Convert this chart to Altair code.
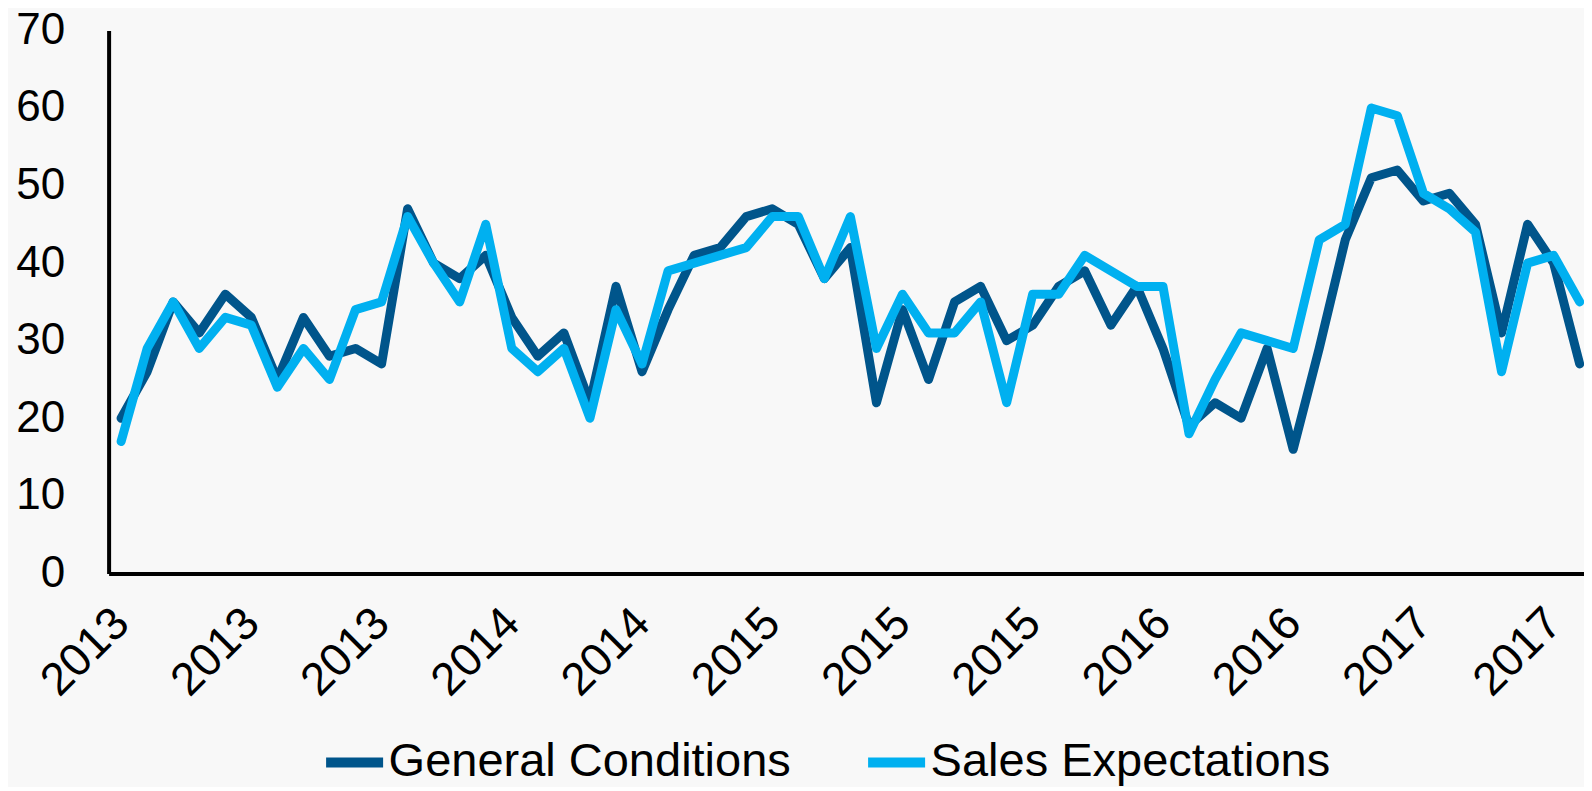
import altair as alt
import pandas as pd

x_labels = ["2013", "2013", "2013", "2014", "2014", "2015", "2015", "2015",
            "2016", "2016", "2017", "2017"]
general_conditions = [20, 26, 35, 31, 36, 33, 25, 33, 28, 29, 27, 47, 40, 38, 41, 33,
                      28, 31, 22, 37, 26, 34, 41, 42, 46, 47, 45, 38, 42, 22, 34, 25,
                      35, 37, 30, 32, 37, 39, 32, 37, 29, 19, 22, 20, 29, 16, 29, 43,
                      51, 52, 48, 49, 45, 31, 45, 40, 27]
sales_expectations = [17, 29, 35, 29, 33, 32, 24, 29, 25, 34, 35, 46, 40, 35, 45, 29,
                      26, 29, 20, 34, 27, 39, 40, 41, 42, 46, 46, 38, 46, 29, 36, 31,
                      31, 35, 22, 36, 36, 41, 39, 37, 37, 18, 25, 31, 30, 29, 43, 45,
                      60, 59, 49, 47, 44, 26, 40, 41, 35]
series_names = ["General Conditions", "Sales Expectations"]
series_colors = ["#00558B", "#00B0F0"]

rows = []
for name, vals in zip(series_names, [general_conditions, sales_expectations]):
    for i, v in enumerate(vals):
        rows.append({"idx": i, "series": name, "value": v})
df = pd.DataFrame(rows)

n = len(general_conditions)
tick_values = list(range(0, n, 5))
label_expr = "[" + ",".join("'%s'" % s for s in x_labels) + "][round(datum.value / 5)]"

FONT = "Liberation Sans"

chart = alt.Chart(df).mark_line(
    strokeWidth=9, strokeCap="round", strokeJoin="round"
).encode(
    x=alt.X(
        "idx:Q",
        scale=alt.Scale(domain=[-0.48, 56.15], nice=False, zero=False),
        axis=alt.Axis(
            values=tick_values, labelExpr=label_expr, title=None, grid=False,
            ticks=False, labelAngle=-45, labelAlign="right", labelBaseline="middle",
            labelPadding=42, labelFontSize=46, labelFont=FONT, labelColor="black",
            domainWidth=4, domainColor="black", labelOverlap=False,
            labelFlush=False, labelBound=False,
        ),
    ),
    y=alt.Y(
        "value:Q",
        scale=alt.Scale(domain=[0, 70], nice=False),
        axis=alt.Axis(
            values=list(range(0, 71, 10)), title=None, grid=False, ticks=False,
            labelPadding=44, labelFontSize=44, labelFont=FONT, labelColor="black",
            domainWidth=4, domainColor="black",
        ),
    ),
    color=alt.Color(
        "series:N",
        scale=alt.Scale(domain=series_names, range=series_colors),
        legend=alt.Legend(
            title=None, orient="none", legendX=212, legendY=698,
            direction="horizontal", symbolType="stroke", symbolStrokeWidth=10,
            symbolSize=3250, labelFontSize=47, labelFont=FONT, labelColor="black",
            labelOffset=0, columnPadding=56, padding=0, labelLimit=0,
        ),
    ),
    order=alt.Order("idx:Q"),
).properties(
    width=1475,
    height=543,
    autosize=alt.AutoSizeParams(type="none"),
    padding={"left": 100.6, "top": 22.4, "right": 0, "bottom": 214},
    background="#f8f8f8",
).configure_view(stroke=None)

chart.save("out.html", embed_options={"renderer": "svg", "actions": False})
